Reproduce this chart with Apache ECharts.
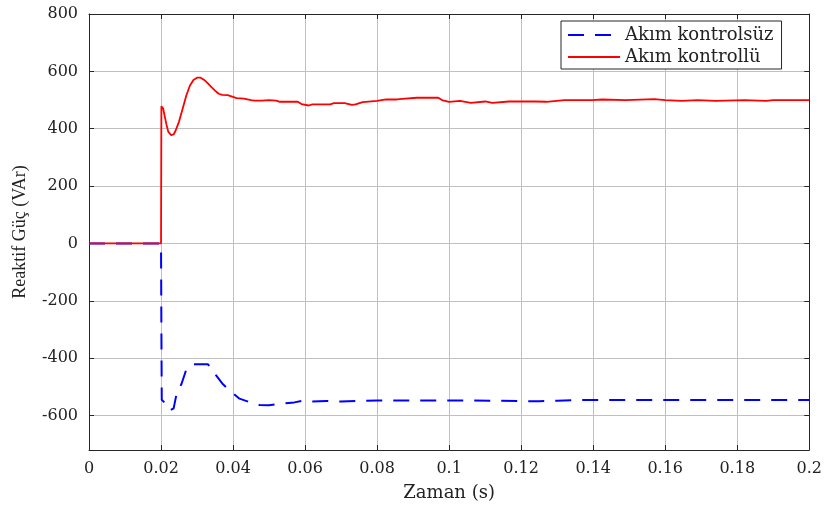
<!DOCTYPE html>
<html>
<head>
<meta charset="utf-8">
<script src="https://cdn.jsdelivr.net/npm/echarts@6/dist/echarts.min.js"></script>
<style>html,body{margin:0;padding:0;background:#fff;}#c{width:825px;height:510px;}</style>
</head>
<body>
<div id="c"></div>
<script>
// ---- data ----
var xTicks = [0, 0.02, 0.04, 0.06, 0.08, 0.1, 0.12, 0.14, 0.16, 0.18, 0.2];
var yTicks = [-600, -400, -200, 0, 200, 400, 600, 800];
var seriesNames = ['Akım kontrolsüz', 'Akım kontrollü'];

var tBlue = [0, 0.02, 0.0201, 0.0202, 0.021, 0.0218, 0.0225, 0.0235, 0.0243, 0.0257, 0.027, 0.028, 0.0294, 0.033, 0.034, 0.0353, 0.037, 0.039, 0.0418, 0.0446, 0.0474, 0.050, 0.0537, 0.057, 0.059, 0.062, 0.066, 0.070, 0.080, 0.100, 0.125, 0.130, 0.135, 0.2];
var vBlue = [0, 0, -300, -545, -555, -575, -582, -575, -525, -489, -440, -425, -421, -421, -435, -460, -488, -512, -541, -553, -563, -564, -558, -554, -549, -551, -549, -551, -547, -547, -550, -548, -546, -546];

var tRed = [0, 0.02, 0.0201, 0.0206, 0.021, 0.0215, 0.022, 0.0228, 0.0235, 0.024, 0.025, 0.026, 0.027, 0.028, 0.029, 0.030, 0.031, 0.032, 0.033, 0.034, 0.035, 0.036, 0.037, 0.0385, 0.039, 0.041, 0.043, 0.045, 0.046, 0.048, 0.050, 0.052, 0.053, 0.058, 0.059, 0.061, 0.062, 0.067, 0.068, 0.071, 0.073, 0.074, 0.076, 0.080, 0.0825, 0.0855, 0.0856, 0.087, 0.091, 0.097, 0.098, 0.100, 0.103, 0.106, 0.110, 0.112, 0.1166, 0.124, 0.1245, 0.127, 0.132, 0.1397, 0.140, 0.1425, 0.149, 0.157, 0.160, 0.1646, 0.169, 0.174, 0.182, 0.188, 0.190, 0.2];
var vRed = [0, 0, 478, 470, 445, 415, 390, 378, 380, 392, 425, 470, 515, 550, 570, 578, 578, 570, 558, 545, 533, 522, 518, 517, 512, 507, 505, 500, 498, 498, 500, 498, 494, 494, 486, 481, 485, 485, 489, 489, 483, 485, 493, 497, 502, 502, 497, 504, 508, 508, 500, 494, 497, 490, 495, 490, 495, 495, 490, 494, 500, 500, 497, 502, 500, 503, 500, 497, 500, 497, 500, 497, 500, 500];

function pairs(t, v) { return t.map(function (x, i) { return [x, v[i]]; }); }

var axisCol = '#262626';
var gridCol = '#c0c0c0';
var tickFont = { fontFamily: 'DejaVu Serif', fontSize: 16, color: '#222' };

var chart = echarts.init(document.getElementById('c'));
chart.setOption({
  animation: false,
  backgroundColor: '#fff',
  grid: { left: 89, right: 13, top: 14, bottom: 60, containLabel: false },
  legend: {
    orient: 'vertical', left: 561, top: 21,
    padding: [5, 8, 3, 6], itemGap: 4, itemWidth: 52, itemHeight: 10,
    borderColor: axisCol, borderWidth: 1, backgroundColor: '#fff',
    itemStyle: { opacity: 0, borderWidth: 0 },
    textStyle: { fontFamily: 'DejaVu Serif', fontSize: 18, color: '#222' },
    data: seriesNames
  },
  xAxis: [{
    type: 'value', min: 0, max: 0.2, interval: 0.02, position: 'bottom',
    name: 'Zaman (s)', nameLocation: 'middle', nameGap: 34,
    nameTextStyle: { fontFamily: 'DejaVu Serif', fontSize: 18, color: '#222' },
    axisLine: { show: true, onZero: false, lineStyle: { color: axisCol, width: 1 } },
    axisTick: { show: true, inside: true, length: 5, lineStyle: { color: axisCol } },
    axisLabel: Object.assign({ margin: 11 }, tickFont),
    splitLine: { show: true, lineStyle: { color: gridCol, width: 1 } }
  }, {
    type: 'value', min: 0, max: 0.2, interval: 0.02, position: 'top',
    axisLine: { show: true, onZero: false, lineStyle: { color: axisCol, width: 1 } },
    axisTick: { show: true, inside: true, length: 5, lineStyle: { color: axisCol } },
    axisLabel: { show: false },
    splitLine: { show: false }
  }],
  yAxis: [{
    type: 'value', min: -720, max: 800, position: 'left',
    name: 'Reaktif Güç (VAr)', nameLocation: 'middle', nameGap: 60, nameRotate: 90,
    nameTextStyle: { fontFamily: 'Liberation Serif', fontSize: 18, color: '#222' },
    axisLine: { show: true, onZero: false, lineStyle: { color: axisCol, width: 1 } },
    axisTick: { show: true, inside: true, length: 5, customValues: yTicks, lineStyle: { color: axisCol } },
    axisLabel: Object.assign({ margin: 11, customValues: yTicks }, tickFont),
    splitLine: { show: true, lineStyle: { color: gridCol, width: 1 } }
  }, {
    type: 'value', min: -720, max: 800, position: 'right',
    axisLine: { show: true, onZero: false, lineStyle: { color: axisCol, width: 1 } },
    axisTick: { show: true, inside: true, length: 5, customValues: yTicks, lineStyle: { color: axisCol } },
    axisLabel: { show: false, customValues: yTicks },
    splitLine: { show: false }
  }],
  series: [{
    name: seriesNames[0], type: 'line', xAxisIndex: 0, yAxisIndex: 0,
    data: pairs(tBlue, vBlue), symbol: 'none',
    lineStyle: { color: '#0000ff', width: 2, type: [16, 11] },
    itemStyle: { color: '#0000ff' }
  }, {
    name: seriesNames[1], type: 'line', xAxisIndex: 0, yAxisIndex: 0,
    data: pairs(tRed, vRed), symbol: 'none',
    lineStyle: { color: '#ff0000', width: 1.8 },
    itemStyle: { color: '#ff0000' }
  }]
});
</script>
</body>
</html>
